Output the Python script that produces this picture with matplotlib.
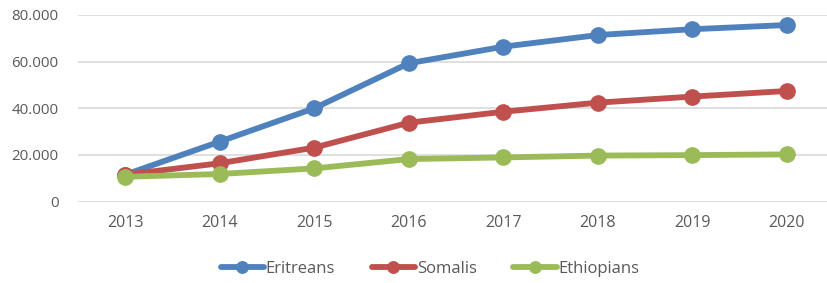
import matplotlib.pyplot as plt
from matplotlib.ticker import FuncFormatter

years = ["2013", "2014", "2015", "2016", "2017", "2018", "2019", "2020"]
eritreans = [11500, 25700, 40000, 59300, 66400, 71400, 73900, 75700]
somalis = [11500, 16400, 23100, 33800, 38500, 42400, 45000, 47400]
ethiopians = [10600, 11800, 14200, 18200, 18900, 19700, 19900, 20200]

plt.rcParams['font.family'] = ['Open Sans', 'DejaVu Sans']

fig = plt.figure(figsize=(8.27, 2.83), dpi=100)
ax = fig.add_axes([78/827, 1-201.5/283, (834-78)/827, (201.5-15)/283])

x = range(len(years))
ax.plot(x, eritreans, color="#4F81BD", lw=4.2, marker="o", ms=11, label="Eritreans", solid_capstyle="round")
ax.plot(x, somalis, color="#C0504D", lw=4.2, marker="o", ms=11, label="Somalis", solid_capstyle="round")
ax.plot(x, ethiopians, color="#9BBB59", lw=4.2, marker="o", ms=11, label="Ethiopians", solid_capstyle="round")

ax.set_xlim(-0.5, 7.5)
ax.set_ylim(0, 80000)
ax.set_yticks([0, 20000, 40000, 60000, 80000])
ax.yaxis.set_major_formatter(FuncFormatter(lambda v, p: "0" if v == 0 else f"{int(v):,}".replace(",", ".")))
ax.set_xticks(list(x))
ax.set_xticklabels(years)
ax.grid(axis="y", color="#D9D9D9", lw=1.2)
ax.set_axisbelow(True)
for s in ax.spines.values():
    s.set_visible(False)
ax.tick_params(length=0, labelsize=10.8, colors="#595959")
ax.tick_params(axis="x", labelsize=11.5, pad=10)
ax.tick_params(axis="y", pad=14)

fig.legend(loc="center", bbox_to_anchor=(430/827, 1-269/283), ncol=3, frameon=False,
           fontsize=12, labelcolor="#595959", handlelength=2.6, columnspacing=2.2,
           handletextpad=0.1, markerscale=0.75)

fig.savefig("out.png", dpi=100)
